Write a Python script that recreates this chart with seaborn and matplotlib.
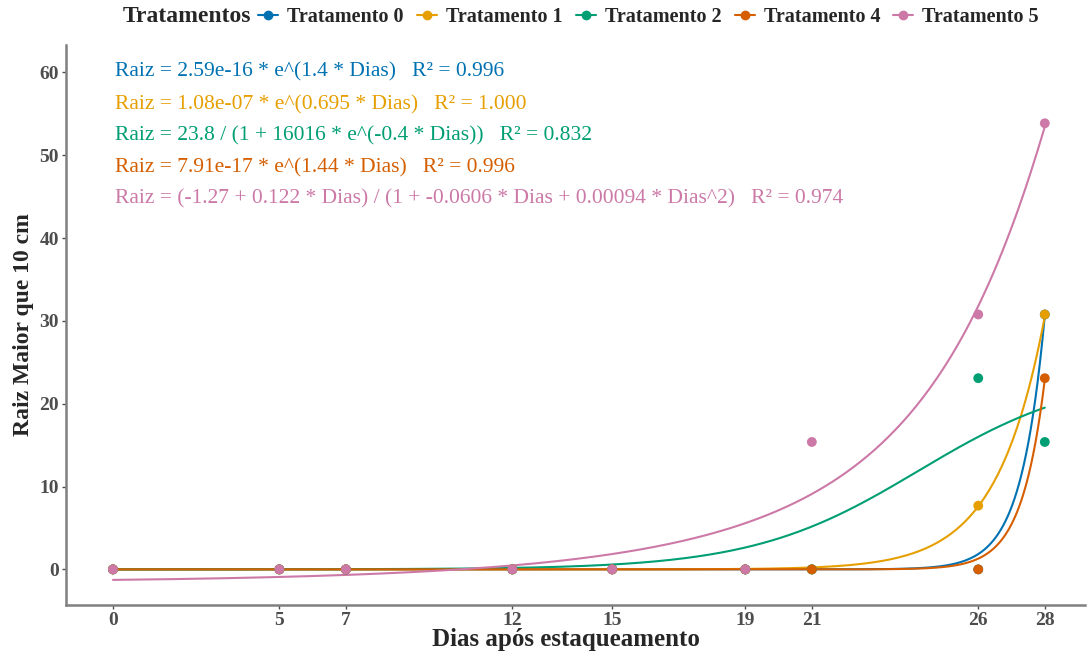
import numpy as np
import pandas as pd
import matplotlib
matplotlib.use("Agg")
import matplotlib.pyplot as plt
import seaborn as sns
from matplotlib.lines import Line2D

# ---------------- data ----------------
dias = [0, 5, 7, 12, 15, 19, 21, 26, 28]
tratamentos = ["Tratamento 0", "Tratamento 1", "Tratamento 2", "Tratamento 4", "Tratamento 5"]
t0 = [0, 0, 0, 0, 0, 0, 0, 0, 30.77]
t1 = [0, 0, 0, 0, 0, 0, 0, 7.69, 30.77]
t2 = [0, 0, 0, 0, 0, 0, 0, 23.08, 15.38]
t4 = [0, 0, 0, 0, 0, 0, 0, 0, 23.08]
t5 = [0, 0, 0, 0, 0, 0, 15.38, 30.77, 53.85]
cores = ["#0072B2", "#E69F00", "#009E73", "#D55E00", "#CC79A7"]

# fitted model parameters (printed values, unrounded where the curve shows it)
exp_t0 = [2.59e-16, 1.404]
exp_t1 = [1.08e-07, 0.695]
logis_t2 = [23.8, 16016, -0.4]
exp_t4 = [7.91e-17, 1.436]
rat_t5 = [-1.27, 0.122, -0.0606, 0.00094]
equacoes = [
    "Raiz = 2.59e-16 * e^(1.4 * Dias)   R² = 0.996",
    "Raiz = 1.08e-07 * e^(0.695 * Dias)   R² = 1.000",
    "Raiz = 23.8 / (1 + 16016 * e^(-0.4 * Dias))   R² = 0.832",
    "Raiz = 7.91e-17 * e^(1.44 * Dias)   R² = 0.996",
    "Raiz = (-1.27 + 0.122 * Dias) / (1 + -0.0606 * Dias + 0.00094 * Dias^2)   R² = 0.974",
]
eq_y = [60, 56.1, 52.3, 48.5, 44.7]

# ---------------- frames ----------------
pts = pd.DataFrame({
    "Dias": dias * 5,
    "Raiz": t0 + t1 + t2 + t4 + t5,
    "Tratamentos": sum([[t] * len(dias) for t in tratamentos], []),
})
xs = np.linspace(0, 28, 400)
curvas = {
    "Tratamento 0": exp_t0[0] * np.exp(exp_t0[1] * xs),
    "Tratamento 1": exp_t1[0] * np.exp(exp_t1[1] * xs),
    "Tratamento 2": logis_t2[0] / (1 + logis_t2[1] * np.exp(logis_t2[2] * xs)),
    "Tratamento 4": exp_t4[0] * np.exp(exp_t4[1] * xs),
    "Tratamento 5": (rat_t5[0] + rat_t5[1] * xs) / (1 + rat_t5[2] * xs + rat_t5[3] * xs ** 2),
}
fit = pd.DataFrame({
    "Dias": np.tile(xs, 5),
    "Raiz": np.concatenate([curvas[t] for t in tratamentos]),
    "Tratamentos": np.repeat(tratamentos, len(xs)),
})

# ---------------- plot ----------------
sns.set_theme(style="white")
plt.rcParams["font.family"] = ["Liberation Serif", "DejaVu Serif"]
fig = plt.figure(figsize=(10.88, 6.53), dpi=100)
ax = fig.add_axes([0.0607, 0.0735, 0.9363, 0.8576])
pal = dict(zip(tratamentos, cores))

sns.lineplot(data=fit, x="Dias", y="Raiz", hue="Tratamentos", palette=pal,
             hue_order=tratamentos, linewidth=1.5, legend=False, ax=ax, sort=False)
for t in tratamentos:
    sub = pts[pts["Tratamentos"] == t]
    sns.scatterplot(data=sub, x="Dias", y="Raiz", color=pal[t], s=50,
                    edgecolor="none", legend=False, ax=ax, zorder=3)

for txt, yy, c in zip(equacoes, eq_y, cores):
    ax.text(0.05, yy, txt, color=c, fontsize=15.5, ha="left", va="center")

ax.set_xlim(-1.41, 29.2)
ax.set_ylim(-4.3, 63.3)
ax.set_xticks(dias)
ax.set_yticks([0, 10, 20, 30, 40, 50, 60])
ax.tick_params(axis="both", colors="#4D4D4D", labelsize=14, length=3, width=1,
               direction="out", bottom=True, left=True, pad=2)
for lab in ax.get_xticklabels() + ax.get_yticklabels():
    lab.set_fontweight("bold")
for s in ["top", "right"]:
    ax.spines[s].set_visible(False)
for s in ["left", "bottom"]:
    ax.spines[s].set_color("#808080")
    ax.spines[s].set_linewidth(1.8)
ax.set_xlabel("Dias após estaqueamento", fontsize=18, fontweight="bold")
ax.xaxis.label.set_va("center")
ax.xaxis.set_label_coords((566 - 66) / 1019, -0.061)
ax.set_ylabel("Raiz Maior que 10 cm", fontsize=17, fontweight="bold", labelpad=4)

# legend
fig.text(123 / 1088, 1 - 17 / 653, "Tratamentos", fontsize=17, fontweight="bold",
         ha="left", va="center")
handles = [Line2D([0], [0], color=c, marker="o", markersize=6, linewidth=1.5) for c in cores]
fig.legend(handles, tratamentos, loc="center left", bbox_to_anchor=(258 / 1088, 1 - 17 / 653),
           ncol=5, frameon=False, handlelength=1.0, handletextpad=0.45, columnspacing=0.65,
           borderpad=0, borderaxespad=0,
           prop={"family": "Liberation Serif", "weight": "bold", "size": 14.5})

fig.savefig("out.png", dpi=100)
